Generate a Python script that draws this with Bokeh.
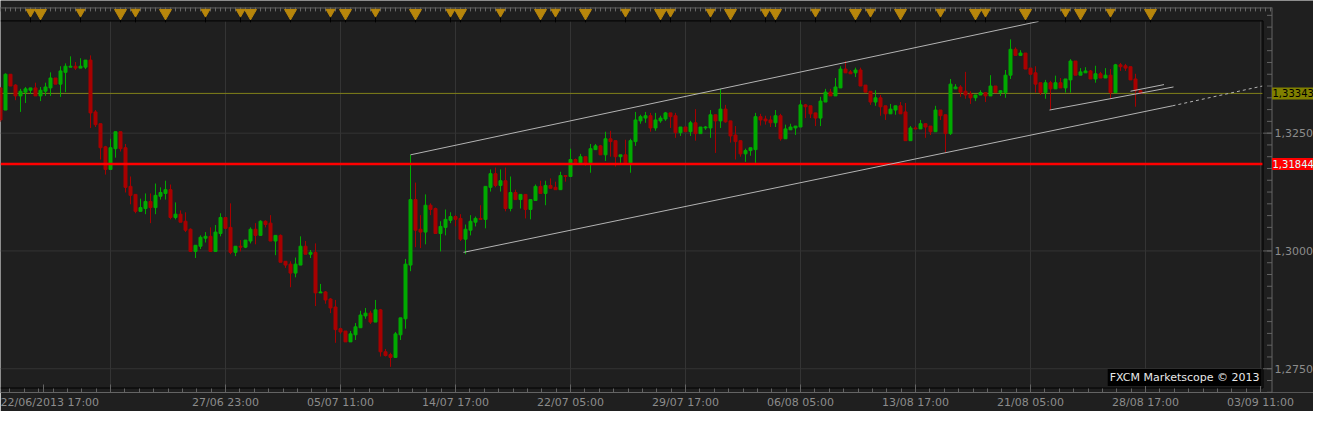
from bokeh.plotting import figure
from bokeh.models import Range1d, FixedTicker, ColumnDataSource, Label, CustomJSTickFormatter
from bokeh.core.properties import value
from bokeh.embed import file_html
from bokeh.resources import INLINE

# ---------------- data (EUR/USD candles) ----------------
opens = [1.3346,1.3299,1.3375,1.3352,1.3329,1.3337,1.3341,1.3346,1.3329,1.3339,
         1.3346,1.3367,1.3354,1.3379,1.3390,1.3392,1.3388,1.3390,1.3405,1.3295,
         1.3270,1.3221,1.3173,1.3217,1.3253,1.3219,1.3137,1.3120,1.3084,1.3090,
         1.3105,1.3092,1.3116,1.3122,1.3130,1.3071,1.3078,1.3063,1.3046,1.2999,
         1.3010,1.3027,1.3031,1.2999,1.3037,1.3071,1.3050,1.2997,1.3010,1.3008,
         1.3021,1.3046,1.3033,1.3063,1.3059,1.3021,1.3033,1.2978,1.2972,1.2953,
         1.2970,1.3010,1.2993,1.2997,1.2911,1.2913,1.2898,1.2881,1.2835,1.2830,
         1.2807,1.2822,1.2837,1.2862,1.2868,1.2849,1.2875,1.2786,1.2780,1.2774,
         1.2822,1.2856,1.2970,1.3109,1.3046,1.3040,1.3097,1.3090,1.3037,1.3050,
         1.3065,1.3073,1.3069,1.3025,1.3044,1.3061,1.3069,1.3067,1.3135,1.3164,
         1.3139,1.3149,1.3090,1.3124,1.3109,1.3120,1.3088,1.3107,1.3137,1.3122,
         1.3139,1.3135,1.3130,1.3160,1.3158,1.3194,1.3187,1.3200,1.3187,1.3215,
         1.3223,1.3204,1.3238,1.3234,1.3200,1.3204,1.3187,1.3232,1.3276,1.3282,
         1.3287,1.3261,1.3276,1.3280,1.3293,1.3287,1.3251,1.3263,1.3253,1.3272,
         1.3249,1.3261,1.3261,1.3289,1.3276,1.3301,1.3276,1.3246,1.3234,1.3206,
         1.3213,1.3215,1.3285,1.3280,1.3278,1.3272,1.3287,1.3238,1.3257,1.3261,
         1.3263,1.3310,1.3308,1.3293,1.3282,1.3316,1.3337,1.3329,1.3346,1.3386,
         1.3380,1.3378,1.3384,1.3352,1.3339,1.3316,1.3325,1.3308,1.3291,1.3299,
         1.3308,1.3295,1.3234,1.3261,1.3259,1.3270,1.3265,1.3253,1.3299,1.3289,
         1.3249,1.3344,1.3348,1.3339,1.3333,1.3325,1.3331,1.3336,1.3329,1.3350,
         1.3336,1.3336,1.3373,1.3428,1.3415,1.3420,1.3388,1.3378,1.3357,1.3336,
         1.3357,1.3344,1.3357,1.3346,1.3363,1.3403,1.3373,1.3378,1.3382,1.3365,
         1.3376,1.3367,1.3373,1.3336,1.3395,1.3393,1.3391,1.3365,1.3340]
highs = [1.3348,1.3377,1.3375,1.3354,1.3344,1.3348,1.3346,1.3357,1.3348,1.3357,
         1.3379,1.3367,1.3392,1.3398,1.3413,1.3401,1.3409,1.3405,1.3415,1.3299,
         1.3270,1.3223,1.3238,1.3253,1.3253,1.3227,1.3158,1.3120,1.3111,1.3122,
         1.3122,1.3143,1.3135,1.3149,1.3141,1.3103,1.3086,1.3082,1.3048,1.3012,
         1.3033,1.3040,1.3050,1.3055,1.3080,1.3071,1.3101,1.3010,1.3023,1.3023,
         1.3050,1.3059,1.3065,1.3065,1.3076,1.3033,1.3035,1.2978,1.2978,1.2986,
         1.3031,1.3021,1.3002,1.3016,1.2930,1.2915,1.2900,1.2896,1.2837,1.2830,
         1.2830,1.2847,1.2873,1.2879,1.2873,1.2896,1.2877,1.2792,1.2784,1.2828,
         1.2858,1.2983,1.3204,1.3145,1.3076,1.3120,1.3101,1.3092,1.3063,1.3088,
         1.3082,1.3076,1.3078,1.3056,1.3076,1.3073,1.3097,1.3137,1.3173,1.3177,
         1.3173,1.3177,1.3158,1.3130,1.3120,1.3120,1.3109,1.3141,1.3149,1.3149,
         1.3154,1.3147,1.3168,1.3160,1.3217,1.3196,1.3206,1.3200,1.3227,1.3227,
         1.3225,1.3253,1.3255,1.3234,1.3204,1.3236,1.3238,1.3295,1.3289,1.3295,
         1.3293,1.3293,1.3287,1.3295,1.3293,1.3293,1.3263,1.3263,1.3276,1.3301,
         1.3263,1.3265,1.3299,1.3289,1.3344,1.3310,1.3276,1.3265,1.3234,1.3217,
         1.3219,1.3293,1.3291,1.3287,1.3287,1.3299,1.3291,1.3268,1.3270,1.3265,
         1.3320,1.3312,1.3308,1.3293,1.3327,1.3344,1.3344,1.3367,1.3392,1.3403,
         1.3384,1.3389,1.3389,1.3352,1.3339,1.3341,1.3331,1.3308,1.3312,1.3308,
         1.3316,1.3314,1.3265,1.3265,1.3278,1.3270,1.3265,1.3308,1.3299,1.3289,
         1.3365,1.3354,1.3352,1.3380,1.3339,1.3331,1.3341,1.3336,1.3373,1.3350,
         1.3341,1.3384,1.3449,1.3432,1.3426,1.3420,1.3388,1.3392,1.3357,1.3363,
         1.3361,1.3372,1.3367,1.3365,1.3407,1.3403,1.3388,1.3390,1.3384,1.3393,
         1.3380,1.3388,1.3386,1.3397,1.3399,1.3397,1.3391,1.3376,1.3340]
lows = [1.3274,1.3299,1.3350,1.3320,1.3295,1.3314,1.3333,1.3329,1.3318,1.3329,
        1.3329,1.3354,1.3327,1.3337,1.3390,1.3384,1.3388,1.3386,1.3261,1.3263,
        1.3194,1.3162,1.3173,1.3198,1.3211,1.3124,1.3099,1.3080,1.3084,1.3078,
        1.3059,1.3078,1.3109,1.3109,1.3067,1.3067,1.3061,1.3040,1.2999,1.2985,
        1.3004,1.3018,1.2999,1.2999,1.3031,1.3048,1.2993,1.2989,1.2999,1.3006,
        1.3016,1.3014,1.3033,1.3050,1.3021,1.2991,1.2976,1.2964,1.2923,1.2944,
        1.2970,1.2993,1.2985,1.2883,1.2911,1.2888,1.2868,1.2805,1.2824,1.2807,
        1.2807,1.2811,1.2837,1.2856,1.2845,1.2849,1.2776,1.2776,1.2754,1.2774,
        1.2811,1.2835,1.2957,1.3008,1.3006,1.3014,1.3076,1.3037,1.2999,1.3033,
        1.3059,1.3052,1.3021,1.2993,1.3033,1.3052,1.3067,1.3048,1.3126,1.3135,
        1.3126,1.3084,1.3084,1.3109,1.3090,1.3069,1.3067,1.3107,1.3122,1.3097,
        1.3133,1.3130,1.3130,1.3147,1.3158,1.3187,1.3187,1.3181,1.3166,1.3215,
        1.3204,1.3191,1.3200,1.3179,1.3187,1.3183,1.3166,1.3223,1.3270,1.3272,
        1.3253,1.3255,1.3272,1.3276,1.3261,1.3240,1.3244,1.3253,1.3244,1.3234,
        1.3249,1.3257,1.3240,1.3208,1.3261,1.3272,1.3230,1.3194,1.3200,1.3189,
        1.3202,1.3187,1.3266,1.3268,1.3263,1.3263,1.3234,1.3238,1.3257,1.3246,
        1.3263,1.3282,1.3282,1.3265,1.3265,1.3316,1.3329,1.3329,1.3346,1.3378,
        1.3376,1.3369,1.3350,1.3337,1.3310,1.3308,1.3287,1.3278,1.3291,1.3289,
        1.3291,1.3234,1.3234,1.3259,1.3259,1.3240,1.3246,1.3253,1.3278,1.3208,
        1.3246,1.3344,1.3327,1.3323,1.3312,1.3318,1.3331,1.3316,1.3329,1.3336,
        1.3329,1.3325,1.3365,1.3415,1.3415,1.3386,1.3375,1.3336,1.3331,1.3323,
        1.3299,1.3344,1.3346,1.3336,1.3336,1.3373,1.3373,1.3378,1.3365,1.3357,
        1.3367,1.3367,1.3323,1.3336,1.3382,1.3382,1.3363,1.3306,1.3336]
closes = [1.3278,1.3375,1.3350,1.3329,1.3339,1.3344,1.3346,1.3329,1.3341,1.3348,
          1.3367,1.3354,1.3382,1.3392,1.3392,1.3388,1.3392,1.3405,1.3293,1.3268,
          1.3219,1.3173,1.3219,1.3253,1.3217,1.3135,1.3118,1.3084,1.3092,1.3105,
          1.3092,1.3118,1.3124,1.3130,1.3071,1.3078,1.3061,1.3044,1.2999,1.3012,
          1.3029,1.3031,1.2999,1.3040,1.3071,1.3048,1.2997,1.3010,1.3008,1.3023,
          1.3046,1.3033,1.3063,1.3056,1.3021,1.3033,1.2976,1.2970,1.2953,1.2972,
          1.3010,1.2993,1.2997,1.2911,1.2913,1.2896,1.2879,1.2833,1.2828,1.2807,
          1.2824,1.2839,1.2864,1.2868,1.2849,1.2875,1.2786,1.2778,1.2774,1.2824,
          1.2858,1.2972,1.3109,1.3044,1.3040,1.3097,1.3088,1.3037,1.3052,1.3067,
          1.3073,1.3067,1.3025,1.3046,1.3063,1.3069,1.3067,1.3137,1.3164,1.3139,
          1.3149,1.3090,1.3124,1.3109,1.3120,1.3088,1.3109,1.3137,1.3122,1.3139,
          1.3133,1.3130,1.3160,1.3158,1.3194,1.3187,1.3200,1.3185,1.3217,1.3223,
          1.3204,1.3238,1.3232,1.3200,1.3204,1.3187,1.3234,1.3278,1.3285,1.3287,
          1.3261,1.3278,1.3282,1.3293,1.3285,1.3251,1.3263,1.3253,1.3272,1.3249,
          1.3263,1.3263,1.3289,1.3276,1.3301,1.3274,1.3244,1.3232,1.3206,1.3213,
          1.3219,1.3285,1.3278,1.3276,1.3272,1.3287,1.3238,1.3259,1.3263,1.3265,
          1.3310,1.3306,1.3291,1.3282,1.3318,1.3337,1.3329,1.3348,1.3386,1.3378,
          1.3376,1.3384,1.3350,1.3337,1.3316,1.3325,1.3306,1.3291,1.3301,1.3308,
          1.3291,1.3234,1.3261,1.3259,1.3270,1.3263,1.3253,1.3299,1.3287,1.3249,
          1.3354,1.3348,1.3337,1.3331,1.3325,1.3331,1.3336,1.3329,1.3350,1.3336,
          1.3340,1.3373,1.3428,1.3415,1.3420,1.3386,1.3375,1.3354,1.3336,1.3357,
          1.3344,1.3357,1.3346,1.3365,1.3403,1.3373,1.3380,1.3382,1.3365,1.3376,
          1.3367,1.3373,1.3336,1.3395,1.3391,1.3388,1.3363,1.3340,1.3334]

# horizontal price levels
level_current = 1.33343
level_support = 1.31844

# channel / trend lines (candle index, price)
upper_channel_x = [82, 207.6]
upper_channel_y = [1.3204, 1.3487]
lower_channel_x = [92.6, 234.4]
lower_channel_y = [1.2997, 1.3308]
lower_ext_x = [234.4, 252.4]
lower_ext_y = [1.3308, 1.3350]
short_line_x = [209.8, 234.6]
short_line_y = [1.3299, 1.3348]
short_line2_x = [226.0, 232.7]
short_line2_y = [1.3339, 1.3353]

# calendar events (candle index)
events_major = [8, 24, 33, 50, 58, 69, 83, 92, 108, 117, 132, 146, 155, 171, 180, 195, 205, 216, 230]
events_minor = [6, 16, 27, 41, 48, 66, 75, 90, 100, 111, 125, 134, 142, 153, 163, 174, 188, 197, 213, 222]

# axes
x_tick_pos = [8.5, 22, 45, 68, 91, 114, 137, 160, 183, 206, 229, 252]
x_tick_labels = ["22/06/2013 17:00", "", "27/06 23:00", "05/07 11:00", "14/07 17:00",
                 "22/07 05:00", "29/07 17:00", "06/08 05:00", "13/08 17:00",
                 "21/08 05:00", "28/08 17:00", "03/09 11:00"]
grid_pos = [22, 45, 68, 91, 114, 137, 160, 183, 206, 229, 252]
y_ticks = [1.2750, 1.3000, 1.3250]
y_minor = [1.2700 + k * 0.0025 for k in range(33)]

# ---------------- style ----------------
BG = "#1f1f1f"
GRID = "#343434"
AXC = "#646464"
TXT = "#8c8c8c"
UP = "#00aa00"
DN = "#a80000"
FONT = "DejaVu Sans"
W, H = 1313, 411
FRAME_B = 394          # bottom of plotting frame (px)
AX_X = 1271.5          # price axis line (px)
BORDER_X = 1262.5      # right border of chart area (px)

n = len(opens)
xs = list(range(n))
colors = [UP if c >= o else DN for o, c in zip(opens, closes)]
src = ColumnDataSource(dict(
    x=xs, open=opens, high=highs, low=lows, close=closes,
    top=[max(o, c) for o, c in zip(opens, closes)],
    bottom=[min(o, c) for o, c in zip(opens, closes)],
    color=colors))

p = figure(width=W, height=H, output_backend="svg", toolbar_location=None,
           x_range=Range1d(0, W / 5.0), y_range=Range1d(1.35315 - 0.00021115 * FRAME_B, 1.35315),
           y_axis_location=None,
           min_border_left=0, min_border_top=0, min_border_right=0,
           min_border_bottom=H - FRAME_B,
           background_fill_color=BG, border_fill_color=BG, outline_line_color=None)
p.extra_y_ranges = {"px": Range1d(start=FRAME_B, end=0)}
p.extra_x_ranges = {"px": Range1d(start=0, end=W)}
p.grid.visible = False

# grid
p.segment(x0=grid_pos, x1=grid_pos, y0=[21] * len(grid_pos), y1=[389] * len(grid_pos),
          y_range_name="px", line_color=GRID, line_width=1)
p.segment(x0=[0] * 3, x1=[BORDER_X] * 3, y0=y_ticks, y1=y_ticks, x_range_name="px",
          line_color=GRID, line_width=1)

# current price level (under candles)
p.segment(x0=[0], x1=[BORDER_X], y0=[level_current], y1=[level_current], x_range_name="px",
          line_color="#80801a", line_width=1)

# candles
p.segment(x0="x", y0="low", x1="x", y1="high", line_color="color", line_width=1, source=src)
p.vbar(x="x", width=0.6, top="top", bottom="bottom", fill_color="color",
       line_color="color", line_width=1, source=src)

# support level (over candles)
p.segment(x0=[0], x1=[BORDER_X], y0=[level_support], y1=[level_support], x_range_name="px",
          line_color="#ff0000", line_width=2.5)

# channel lines
LC = "#b4b4b4"
p.line(upper_channel_x, upper_channel_y, line_color=LC, line_width=1)
p.line(lower_channel_x, lower_channel_y, line_color=LC, line_width=1)
p.line(lower_ext_x, lower_ext_y, line_color=LC, line_width=1, line_dash="3 3")
p.line(short_line_x, short_line_y, line_color=LC, line_width=1)
p.line(short_line2_x, short_line2_y, line_color=LC, line_width=1)

# top event strip (ruler + calendar markers)
p.segment(x0=[0], x1=[AX_X], y0=[7.5], y1=[7.5], x_range_name="px", y_range_name="px",
          line_color=AXC, line_width=1)
ruler = list(range(0, 255))
p.segment(x0=ruler, x1=ruler, y0=[7] * len(ruler), y1=[11] * len(ruler),
          y_range_name="px", line_color=AXC, line_width=1)
ev_all = events_minor + events_major
p.segment(x0=ev_all, x1=ev_all, y0=[15] * len(ev_all), y1=[22] * len(ev_all),
          y_range_name="px", line_color="#000000", line_width=1)
p.scatter(x=events_minor, y=[11.5] * len(events_minor), y_range_name="px",
          marker="inverted_triangle", size=9, fill_color="#b8860b", line_color="#b8860b")
p.scatter(x=events_major, y=[12.5] * len(events_major), y_range_name="px",
          marker="inverted_triangle", size=12, fill_color="#b8860b", line_color="#b8860b")

# chart-area borders
p.segment(x0=[0, BORDER_X, 0], x1=[BORDER_X, BORDER_X, BORDER_X],
          y0=[20.5, 20.5, 389.5], y1=[20.5, 389.5, 389.5],
          x_range_name="px", y_range_name="px", line_color="#000000", line_width=1)

# price scale (right side): axis line, ticks, labels
p.segment(x0=[AX_X], x1=[AX_X], y0=[7], y1=[FRAME_B], x_range_name="px", y_range_name="px",
          line_color=AXC, line_width=1)
p.segment(x0=[AX_X - 9] * len(y_ticks), x1=[AX_X] * len(y_ticks), y0=y_ticks, y1=y_ticks,
          x_range_name="px", line_color=AXC, line_width=1)
p.segment(x0=[AX_X - 5] * len(y_minor), x1=[AX_X] * len(y_minor), y0=y_minor, y1=y_minor,
          x_range_name="px", line_color=AXC, line_width=1)
p.text(x=[AX_X + 2.5] * len(y_ticks), y=y_ticks,
       text=[f"{v:.4f}".replace(".", ",") for v in y_ticks], x_range_name="px",
       text_font=value(FONT), text_font_size=value("11px"), text_color=TXT,
       text_align="left", text_baseline="middle")

# level tags on the price scale
levels = [level_current, level_support]
p.rect(x=[1292.25] * 2, y=levels, width=[41.5] * 2, height=[12] * 2,
       width_units="screen", height_units="screen", x_range_name="px",
       fill_color=["#808000", "#ff0000"], line_color=None)
p.text(x=[AX_X + 0.5] * 2, y=levels, text=[f"{v:.5f}".replace(".", ",") for v in levels],
       x_range_name="px", text_font=value(FONT), text_font_size=value("10px"),
       text_color=["#000000", "#d8ffff"], text_align="left", text_baseline="middle")

# watermark
p.add_layout(Label(x=1261, y=379, x_range_name="px", y_range_name="px",
                   text="FXCM Marketscope © 2013", text_align="right", text_baseline="middle",
                   text_font=FONT, text_font_size="11px", text_color="#e8e8e8",
                   background_fill_color="#000000", padding=2))

# time axis (bottom)
xa = p.xaxis[0]
xa.bounds = (0, AX_X / 5.0)
xa.ticker = FixedTicker(ticks=x_tick_pos,
                        minor_ticks=[22 + k * 2.875 for k in range(-7, 81)])
xa.formatter = CustomJSTickFormatter(args=dict(pos=x_tick_pos, labels=x_tick_labels),
                                     code="const i = pos.indexOf(tick); return i >= 0 ? labels[i] : '';")
xa.axis_line_color = AXC
xa.major_tick_line_color = AXC
xa.minor_tick_line_color = AXC
xa.major_tick_in = 8
xa.major_tick_out = 0
xa.minor_tick_in = 4
xa.minor_tick_out = 0
xa.major_label_standoff = 3
xa.major_label_text_font = FONT
xa.major_label_text_font_size = "11px"
xa.major_label_text_color = TXT

open("out.html", "w").write(file_html(p, INLINE))
